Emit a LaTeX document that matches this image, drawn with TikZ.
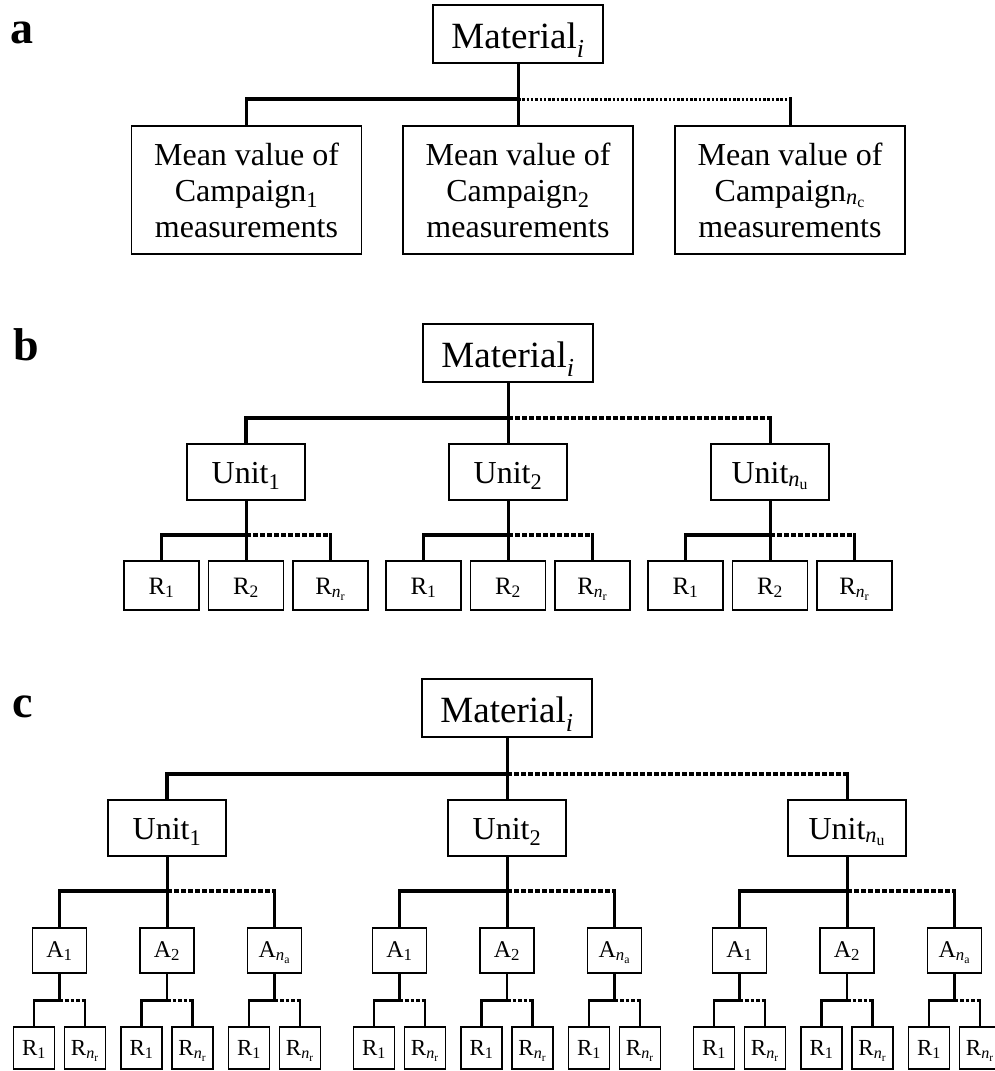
\documentclass[tikz,border=0pt]{standalone}
\usepackage{fontspec}
\setmainfont{Liberation Serif}
\usetikzlibrary{calc,positioning}

\begin{document}
\begin{tikzpicture}[x=1pt,y=-1pt]
      \tikzstyle{boxnode} = [draw, line width=1.8pt, inner sep=0pt, align=center]
      \tikzstyle{matnode} = [boxnode, minimum width=170pt, minimum height=58pt, text height=29pt, text depth=0pt, font=\fontsize{37}{40}\selectfont]
      \tikzstyle{cnode} = [boxnode, minimum width=230pt, minimum height=128pt, font=\fontsize{32}{36}\selectfont]
      \tikzstyle{unode} = [boxnode, minimum width=118pt, minimum height=56pt, text height=22pt, text depth=0pt, font=\fontsize{32}{36}\selectfont]
      \tikzstyle{rbnode} = [boxnode, minimum width=75pt, minimum height=49pt, text height=17pt, text depth=0pt, font=\fontsize{25}{30}\selectfont]
      \tikzstyle{anode} = [boxnode, minimum width=54pt, minimum height=45pt, text height=13pt, text depth=0pt, font=\fontsize{24}{28}\selectfont]
      \tikzstyle{rcnode} = [boxnode, minimum width=41pt, minimum height=42pt, text height=14pt, text depth=0pt, font=\fontsize{23}{26}\selectfont]
      \tikzstyle{lab} = [anchor=base west, inner sep=0pt, font=\fontsize{46}{46}\selectfont\bfseries]

      \tikzstyle{stemline} = [line width=3pt]
      \tikzstyle{barline} = [line width=3.4pt]
      \tikzstyle{dotline} = [line width=3.4pt, dash pattern=on 4.5pt off 2.5pt]
      \tikzstyle{finedots} = [line width=3pt, dash pattern=on 2.5pt off 1.8pt]
      \tikzstyle{thinline} = [line width=2.4pt]
      \tikzstyle{thindots} = [line width=2.4pt, dash pattern=on 3.5pt off 2pt]

      \useasboundingbox (0,0) rectangle (995,1071);

      % a
      \node[lab] (la) at (10,43) {a};
      \node[matnode] (mata) at (518,34) {Material\textsubscript{\textit{i}}};
      \node[cnode] (ca1) at (246.5,190) {Mean value of\\Campaign\textsubscript{1}\\measurements};
      \node[cnode] (ca2) at (518,190) {Mean value of\\Campaign\textsubscript{2}\\measurements};
      \node[cnode] (ca3) at (790,190) {Mean value of\\Campaign\textsubscript{\textit{n}\textsubscript{c}}\\measurements};
      \coordinate (ja) at (mata.south |- 0,99);

      \draw[stemline] (mata.south) -- (ca2.north);
      \draw[barline] (ca1.north) |- (ja);
      \draw[finedots] (ja) -- (ja -| ca3.north);
      \draw[stemline] ([yshift=1.7pt]ja -| ca3.north) -- (ca3.north);

      % b
      \node[lab] (lb) at (13,360) {b};
      \node[matnode] (matb) at (508,353) {Material\textsubscript{\textit{i}}};
      \coordinate (jb) at (matb.south |- 0,418);
      \foreach \u/\x/\s in {1/246/1, 2/508/2, 3/770/{\textit{n}\textsubscript{u}}} {
        \node[unode] (ub\u) at (\x,472) {Unit\textsubscript{\s}};
        \node[rbnode] (rb\u1) at (\x-84.5,585.5) {R\textsubscript{1}};
        \node[rbnode] (rb\u2) at (\x,585.5) {R\textsubscript{2}};
        \node[rbnode] (rb\u3) at (\x+84.5,585.5) {R\textsubscript{\textit{n}\textsubscript{r}}};
        \coordinate (jb\u) at (ub\u.south |- 0,535);
        \draw[stemline] (ub\u.south) -- (rb\u2.north);
        \draw[barline] (rb\u1.north) |- (jb\u);
        \draw[dotline] (jb\u) -- (jb\u -| rb\u3.north);
        \draw[stemline] ([yshift=1.7pt]jb\u -| rb\u3.north) -- (rb\u3.north);
      }
      \draw[stemline] (matb.south) -- (ub2.north);
      \draw[barline] (ub1.north) |- (jb);
      \draw[dotline] (jb) -- (jb -| ub3.north);
      \draw[stemline] ([yshift=1.7pt]jb -| ub3.north) -- (ub3.north);

      % c
      \node[lab] (lc) at (12,717) {c};
      \node[matnode] (matc) at (507,708) {Material\textsubscript{\textit{i}}};
      \coordinate (jc) at (matc.south |- 0,774);
      \foreach \u/\x/\s in {1/167/1, 2/507/2, 3/847/{\textit{n}\textsubscript{u}}} {
        \node[unode] (uc\u) at (\x,828) {Unit\textsubscript{\s}};
        \foreach \a/\dx/\t in {1/-107.5/1, 2/0/2, 3/107.5/{\textit{n}\textsubscript{a}}} {
          \node[anode] (a\u\a) at (\x+\dx,950.5) {A\textsubscript{\t}};
          \node[rcnode] (r\u\a1) at (\x+\dx-25.5,1048) {R\textsubscript{1}};
          \node[rcnode] (r\u\a2) at (\x+\dx+25.5,1048) {R\textsubscript{\textit{n}\textsubscript{r}}};
          \coordinate (k\u\a) at (a\u\a.south |- 0,1000.5);
          \draw[thinline] (a\u\a.south) -- (k\u\a);
          \draw[thinline] (r\u\a1.north) |- (k\u\a);
          \draw[thindots] (k\u\a) -- (k\u\a -| r\u\a2.north);
          \draw[thinline] ([yshift=1.2pt]k\u\a -| r\u\a2.north) -- (r\u\a2.north);
        }
        \coordinate (jc\u) at (uc\u.south |- 0,891);
        \draw[stemline] (uc\u.south) -- (a\u2.north);
        \draw[barline] (a\u1.north) |- (jc\u);
        \draw[dotline] (jc\u) -- (jc\u -| a\u3.north);
        \draw[stemline] ([yshift=1.7pt]jc\u -| a\u3.north) -- (a\u3.north);
      }
      \draw[stemline] (matc.south) -- (uc2.north);
      \draw[barline] (uc1.north) |- (jc);
      \draw[dotline] (jc) -- (jc -| uc3.north);
      \draw[stemline] ([yshift=1.7pt]jc -| uc3.north) -- (uc3.north);
\end{tikzpicture}
\end{document}
